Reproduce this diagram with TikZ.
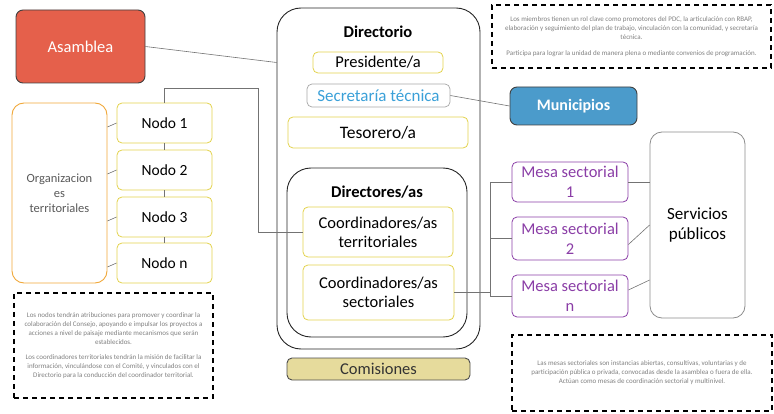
\documentclass[tikz,border=0pt]{standalone}
\usepackage{fontspec}
\setmainfont{Carlito}
\definecolor{rojoasam}{HTML}{E5604B}
\definecolor{azulmun}{HTML}{4B9BCB}
\definecolor{amarillo}{HTML}{E2D24C}
\definecolor{naranja}{HTML}{F0A83A}
\definecolor{morado}{HTML}{8A3DA6}
\definecolor{celeste}{HTML}{3AA0D8}
\definecolor{arena}{HTML}{E6DB9C}
\tikzset{
	caja/.style = {rounded corners=5pt, align=center, inner sep=1pt, font=\fontsize{16.5}{19}\selectfont},
	cargo/.style = {caja, draw=amarillo, line width=0.8pt},
	grupo/.style = {draw=black!85, line width=0.9pt, rounded corners=24pt},
	titulo/.style = {font=\fontsize{16.5}{19}\selectfont\bfseries},
	nodo/.style = {cargo, minimum width=95pt, minimum height=40pt, font=\fontsize{15.5}{18}\selectfont},
	mesa/.style = {caja, draw=morado, line width=0.8pt, text=morado, font=\fontsize{16.5}{20}\selectfont, minimum width=116pt},
	relleno/.style = {caja, draw=black!75, line width=0.9pt, text=white, rounded corners=7pt},
	nota/.style = {draw=black, line width=1.4pt, dash pattern=on 5pt off 4pt, align=flush center, text=black!50, font=\fontsize{7}{9}\selectfont},
	linea/.style = {draw=black!55, line width=0.6pt}
}

\begin{document}
\begin{tikzpicture}[x=1pt,y=-1pt]
	\useasboundingbox (0,0) rectangle (774,414);
	% directorio
	\node [grupo, minimum width=203pt, minimum height=341pt] (directorio) at (378.5,178.5) {};
	\node [titulo] (dirtit) at (378,32) {Directorio};
	\node [cargo, minimum width=130pt, minimum height=21pt] (presidente) at (378,62.5) {Presidente/a};
	\node [caja, draw=black!35, line width=0.7pt, text=celeste, minimum width=143pt, minimum height=23pt, font=\fontsize{17}{19}\selectfont] (secretaria) at (378.5,95.5) {Secretaría técnica};
	\node [cargo, minimum width=180pt, minimum height=31pt, font=\fontsize{17.5}{19}\selectfont] (tesorero) at (378,132.5) {Tesorero/a};
	\node [grupo, minimum width=180pt, minimum height=169pt] (directores) at (377,252.5) {};
	\node [titulo] (directit) at (377,192) {Directores/as};
	\node [cargo, minimum width=150pt, minimum height=50pt] (coordter) at (378,232) {Coordinadores/as\\territoriales};
	\node [cargo, minimum width=151pt, minimum height=55pt] (coordsec) at (378.5,292.5) {Coordinadores/as\\sectoriales};
	\node [caja, fill=arena, draw=black!70, line width=0.9pt, minimum width=183pt, minimum height=22pt, text=black!80] (comisiones) at (378.5,369) {Comisiones};
	% izquierda
	\node [relleno, fill=rojoasam, minimum width=129pt, minimum height=73pt] (asamblea) at (80.5,46.5) {Asamblea};
	\node [caja, draw=naranja, line width=0.9pt, rounded corners=12pt, minimum width=95pt, minimum height=180pt, text=black!65, font=\fontsize{12.5}{15}\selectfont] (org) at (59.5,193) {Organizacion\\es\\territoriales};
	\node [nodo] (nodo1) at (164.5,123) {Nodo 1};
	\node [nodo] (nodo2) at (164.5,170) {Nodo 2};
	\node [nodo] (nodo3) at (164.5,217) {Nodo 3};
	\node [nodo] (nodon) at (164.5,263) {Nodo n};
	% derecha
	\node [relleno, fill=azulmun, minimum width=127pt, minimum height=38pt, font=\fontsize{16}{19}\selectfont\bfseries] (municipios) at (573.5,106) {Municipios};
	\node [mesa, minimum height=40pt] (mesa1) at (570,182) {Mesa sectorial\\1};
	\node [mesa, minimum height=43pt] (mesa2) at (570,238.5) {Mesa sectorial\\2};
	\node [mesa, minimum height=42pt] (mesan) at (570,296) {Mesa sectorial\\n};
	\node [caja, draw=black!45, line width=0.8pt, rounded corners=12pt, minimum width=95pt, minimum height=186pt, font=\fontsize{17}{20}\selectfont] (servicios) at (697.5,225) {Servicios\\públicos};
	% notas
	\node [nota, minimum width=279pt, minimum height=63pt, text width=262pt] (notasup) at (631.5,36.5) {Los miembros tienen un rol clave como promotores del PDC, la articulación con RBAP, elaboración y seguimiento del plan de trabajo, vinculación con la comunidad, y secretaría técnica.\\[7pt] Participa para lograr la unidad de manera plena o mediante convenios de programación.};
	\node [nota, minimum width=199pt, minimum height=105pt, text width=180pt] (notainf) at (113.5,345.5) {Los nodos tendrán atribuciones para promover y coordinar la colaboración del Consejo, apoyando e impulsar los proyectos a acciones a nivel de paisaje mediante mecanismos que serán establecidos.\\[6pt] Los coordinadores territoriales tendrán la misión de facilitar la información, vinculándose con el Comité, y vinculados con el Directorio para la conducción del coordinador territorial.};
	\node [nota, minimum width=260pt, minimum height=76pt, text width=242pt] (notamesas) at (642,373) {Las mesas sectoriales son instancias abiertas, consultivas, voluntarias y de participación pública o privada, convocadas desde la asamblea o fuera de ella. Actúan como mesas de coordinación sectorial y multinivel.};
	% conexiones
	\draw [linea] (asamblea.east) -- (directorio.west |- presidente);
	\draw [linea] (secretaria.east) -- (municipios.west);
	\coordinate (codo) at (258,88);
	\draw [linea] (nodo1.north) |- (codo) |- (coordter.west);
	\draw [linea] (nodo1) -- (nodo2) -- (nodo3) -- (nodon);
	\foreach \n in {nodo1,nodo2,nodo3,nodon}
		\draw [linea] (\n.west) -- ([yshift=-4pt]org.east |- \n.west);
	\coordinate (ramal) at (490,0);
	\draw [linea] (coordsec.east) -- (coordsec.east -| ramal);
	\draw [linea] (ramal |- mesa1.west) -- (ramal |- mesan.west);
	\foreach \m in {mesa1,mesa2,mesan}
		\draw [linea] (ramal |- \m.west) -- (\m.west);
	\draw [linea] (mesa1.east) -- (servicios.west |- mesa1.east);
	\draw [linea] ([yshift=-6pt]mesa2.east) -- (servicios.west);
	\draw [linea] ([yshift=6pt]mesan.east) -- ([yshift=-55pt]servicios.west);
\end{tikzpicture}
\end{document}
